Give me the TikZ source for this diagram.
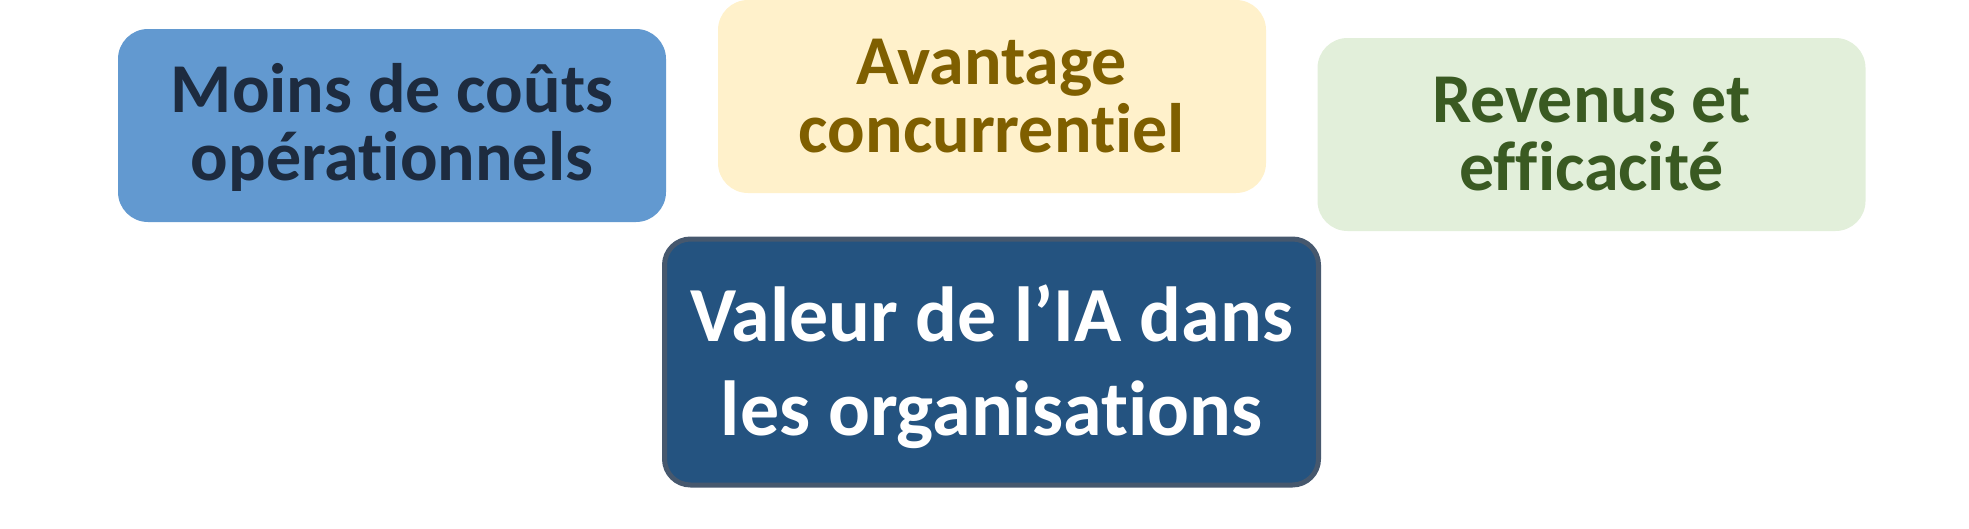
\documentclass[tikz,border=0pt]{standalone}
\usepackage{fontspec}
\setmainfont{Carlito}[Ligatures=NoCommon]
\usepackage{tikz}

\definecolor{coutfill}{HTML}{6299D0}
\definecolor{couttext}{HTML}{1D2B3F}
\definecolor{avanfill}{HTML}{FFF1CB}
\definecolor{avantext}{HTML}{7F5F00}
\definecolor{revfill}{HTML}{E2EFDA}
\definecolor{revtext}{HTML}{3A5A22}
\definecolor{valfill}{HTML}{245380}
\definecolor{valedge}{HTML}{46586E}

\begin{document}
\begin{tikzpicture}[x=1pt,y=-1pt]
                        \tikzstyle{box}=[rounded corners=30pt, minimum width=548pt, minimum height=193pt, align=center, inner sep=0pt, font=\fontsize{70}{68}\selectfont\bfseries]
                        \tikzstyle{centre}=[rounded corners=26pt, minimum width=654pt, minimum height=246pt, align=center, inner sep=0pt, line width=5pt, font=\fontsize{78}{94}\selectfont\bfseries]
                        \useasboundingbox (0,0) rectangle (1969,528);
                        % trois avantages en haut
                        \node[box, fill=coutfill, text=couttext, text depth=7pt] (couts) at (392,125.5) {Moins de coûts\\opérationnels};
                        \node[box, fill=avanfill, text=avantext] (avantage) at (992,96.5) {Avantage\\concurrentiel};
                        \node[box, fill=revfill, text=revtext] (revenus) at (1591.5,134.5) {Revenus et\\efficacité};
                        % valeur au centre
                        \node[centre, fill=valfill, draw=valedge, text=white, text depth=4pt] (valeur) at (991.5,362) {Valeur de l’IA dans\\les organisations};
                    \end{tikzpicture}
\end{document}
